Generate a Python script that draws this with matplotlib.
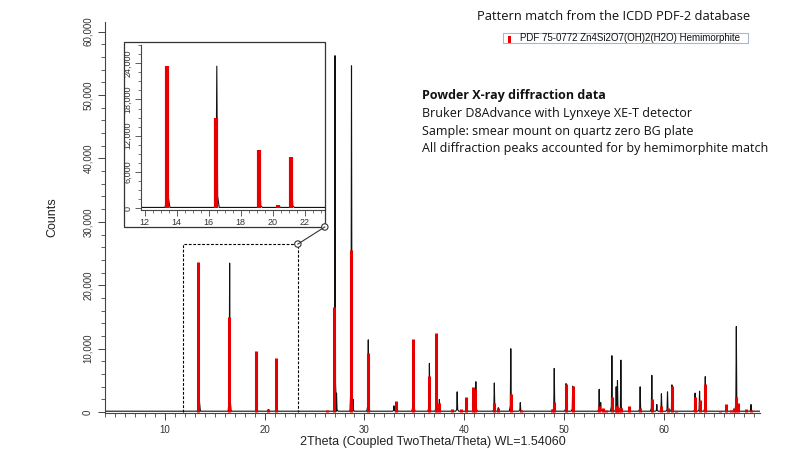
import numpy as np
import matplotlib.pyplot as plt
from matplotlib.patches import Rectangle, Circle
from matplotlib.lines import Line2D
from matplotlib.ticker import MultipleLocator, FuncFormatter

# observed pattern: peak positions (2theta) and heights (counts)
obs_pos = [13.42, 16.50, 19.20, 20.40, 21.20, 27.05, 27.20, 28.70, 28.85, 30.38,
           32.95, 33.25, 34.90, 36.50, 37.22, 37.50, 39.28, 40.25, 41.15, 43.00,
           43.40, 44.65, 45.60, 49.00, 50.18, 50.85, 53.50, 53.65, 54.77, 55.20,
           55.33, 55.67, 57.60, 58.77, 59.27, 59.73, 60.34, 60.78, 63.10, 63.55,
           64.12, 67.23, 68.70]
obs_hgt = [20500, 23500, 3000, 400, 3000, 56200, 3000, 54600, 2000, 11400,
           1000, 1500, 10800, 7700, 11500, 2000, 3200, 1500, 4800, 4600,
           700, 10000, 1500, 6900, 4500, 4100, 3600, 1500, 8900, 4000,
           5000, 8200, 4000, 5800, 1200, 2900, 3200, 4300, 3000, 3300,
           5600, 13500, 1200]

# PDF 75-0772 reference sticks
ref_pos = [13.38, 16.48, 19.15, 20.35, 21.13, 26.20, 26.95, 28.65, 30.35, 33.20,
           34.87, 36.47, 37.20, 37.45, 38.80, 39.70, 40.20, 40.82, 41.10, 43.00,
           43.40, 44.63, 45.65, 48.75, 48.98, 50.18, 50.85, 53.49, 53.86, 54.19,
           54.77, 55.20, 55.33, 55.50, 55.67, 56.53, 57.60, 58.77, 59.73, 60.34,
           60.78, 61.20, 63.10, 63.55, 64.12, 65.56, 66.23, 66.70, 66.96, 67.23,
           67.36, 68.20, 68.70]
ref_hgt = [23600, 15000, 9600, 500, 8500, 300, 16500, 25600, 9300, 1700,
           11600, 5700, 12500, 1400, 500, 500, 2400, 4000, 3600, 1500,
           600, 2900, 300, 500, 1600, 4400, 4100, 900, 600, 400,
           2400, 1000, 900, 700, 600, 900, 600, 2100, 1000, 600,
           4200, 200, 2400, 1900, 4500, 200, 1300, 400, 600, 2400,
           1400, 500, 400]

x_start, x_end = 4.0, 69.6
base = 150

# build the observed trace as narrow peaks on a flat baseline
tx = [x_start]
ty = [base]
for p, h in sorted(zip(obs_pos, obs_hgt)):
    tx += [p - 0.15, p - 0.05, p, p + 0.05, p + 0.15]
    ty += [base, 0.08 * h + base, h, 0.08 * h + base, base]
tx.append(x_end)
ty.append(base)
tx = np.array(tx)
ty = np.array(ty)

fig = plt.figure(figsize=(8, 4.5), dpi=100)
ax = fig.add_axes([0.131, 0.082, 0.819, 0.869])

ax.plot(tx, ty, color='#111111', lw=0.8, zorder=2)
ax.vlines(ref_pos, 0, ref_hgt, color='#e80000', lw=2.2, zorder=3)

ax.set_xlim(x_start, x_end)
ax.set_ylim(-150, 61500)
for s in ['top', 'right']:
    ax.spines[s].set_visible(False)
for s in ['left', 'bottom']:
    ax.spines[s].set_color('#444444')
    ax.spines[s].set_linewidth(0.8)

ax.xaxis.set_major_locator(MultipleLocator(10))
ax.xaxis.set_minor_locator(MultipleLocator(1))
ax.yaxis.set_major_locator(MultipleLocator(10000))
ax.yaxis.set_minor_locator(MultipleLocator(2000))
ax.xaxis.set_major_formatter(FuncFormatter(lambda v, p: '%d' % v if v >= 10 else ''))
ax.yaxis.set_major_formatter(FuncFormatter(lambda v, p: '{:,.0f}'.format(v)))
ax.tick_params(which='major', length=5, width=0.7, color='#444444',
               labelsize=7, labelcolor='#333333')
ax.tick_params(which='minor', length=3, width=0.6, color='#444444')
for lab in ax.get_yticklabels():
    lab.set_rotation(90)
    lab.set_va('center')
for lab in ax.get_xticklabels():
    lab.set_fontfamily('Liberation Sans')
for lab in ax.get_yticklabels():
    lab.set_fontfamily('Liberation Sans')

ax.set_xlabel('2Theta (Coupled TwoTheta/Theta) WL=1.54060', fontsize=9,
              family='Liberation Sans', color='#222222', labelpad=1)
ax.set_ylabel('Counts', fontsize=9, family='Liberation Sans', color='#222222',
              labelpad=18)

# dashed zoom region
zx0, zx1, ztop = 11.8, 23.33, 26500
ax.plot([zx0, zx0, zx1, zx1], [0, ztop, ztop, 0], color='black', lw=0.8,
        ls=(0, (2.5, 1.5)), zorder=1)

# inset
fig.patches.append(Rectangle((0.155, 0.4956), 0.251, 0.411, transform=fig.transFigure,
                             fill=False, edgecolor='#333333', lw=0.9))
ins = fig.add_axes([0.176, 0.533, 0.230, 0.367])
ins.plot(tx, ty, color='#111111', lw=0.8, zorder=2)
ins.vlines(ref_pos, 0, ref_hgt, color='#e80000', lw=3.0, zorder=3)
ins.set_xlim(11.75, 23.25)
ins.set_ylim(-300, 27000)
for s in ['top', 'right']:
    ins.spines[s].set_visible(False)
for s in ['left', 'bottom']:
    ins.spines[s].set_color('#444444')
    ins.spines[s].set_linewidth(0.8)
ins.xaxis.set_major_locator(MultipleLocator(2))
ins.xaxis.set_minor_locator(MultipleLocator(0.5))
ins.yaxis.set_major_locator(MultipleLocator(6000))
ins.yaxis.set_minor_locator(MultipleLocator(1500))
ins.yaxis.set_major_formatter(FuncFormatter(lambda v, p: '{:,.0f}'.format(v)))
ins.tick_params(which='major', length=4, width=0.6, color='#444444',
                labelsize=6.5, labelcolor='#333333', pad=2)
ins.tick_params(which='minor', length=2.5, width=0.5, color='#444444')
for lab in ins.get_yticklabels():
    lab.set_rotation(90)
    lab.set_va('center')
    lab.set_fontfamily('Liberation Sans')
for lab in ins.get_xticklabels():
    lab.set_fontfamily('Liberation Sans')

# connector between dashed box and inset
p_main = fig.transFigure.inverted().transform(ax.transData.transform((zx1, ztop)))
p_ins = (0.406, 0.4956)
fig.lines.append(Line2D([p_main[0], p_ins[0]], [p_main[1], p_ins[1]],
                        transform=fig.transFigure, color='#333333', lw=0.8))
for px, py in [p_main, p_ins]:
    fig.patches.append(Circle((px * 800, py * 450), 3.2, transform=None,
                              fill=True, facecolor='white', edgecolor='#333333', lw=0.8))

# annotations
fig.text(0.596, 0.963, 'Pattern match from the ICDD PDF-2 database', fontsize=9.3,
         family='Open Sans', color='#111111', va='center')
fig.patches.append(Rectangle((0.629, 1 - 43.3 / 450), 0.306, 10.6 / 450,
                             transform=fig.transFigure, facecolor='white',
                             edgecolor='#a8b8cc', lw=0.8))
fig.patches.append(Rectangle((0.6355, 1 - 42.5 / 450), 0.003, 6.5 / 450,
                             transform=fig.transFigure, facecolor='#e80000',
                             edgecolor='none'))
fig.text(0.650, 1 - 38 / 450, 'PDF 75-0772 Zn4Si2O7(OH)2(H2O) Hemimorphite',
         fontsize=7, family='Liberation Sans', color='#111111', va='center')

lines = ['Bruker D8Advance with Lynxeye XE-T detector',
         'Sample: smear mount on quartz zero BG plate',
         'All diffraction peaks accounted for by hemimorphite match']
fig.text(0.527, 1 - 96 / 450, 'Powder X-ray diffraction data', fontsize=9,
         family='Open Sans', weight='bold', color='#111111', va='center')
for i, t in enumerate(lines):
    fig.text(0.527, 1 - (113.5 + 17.5 * i) / 450, t, fontsize=9,
             family='Open Sans', color='#111111', va='center')

fig.savefig('out.png', dpi=100)
